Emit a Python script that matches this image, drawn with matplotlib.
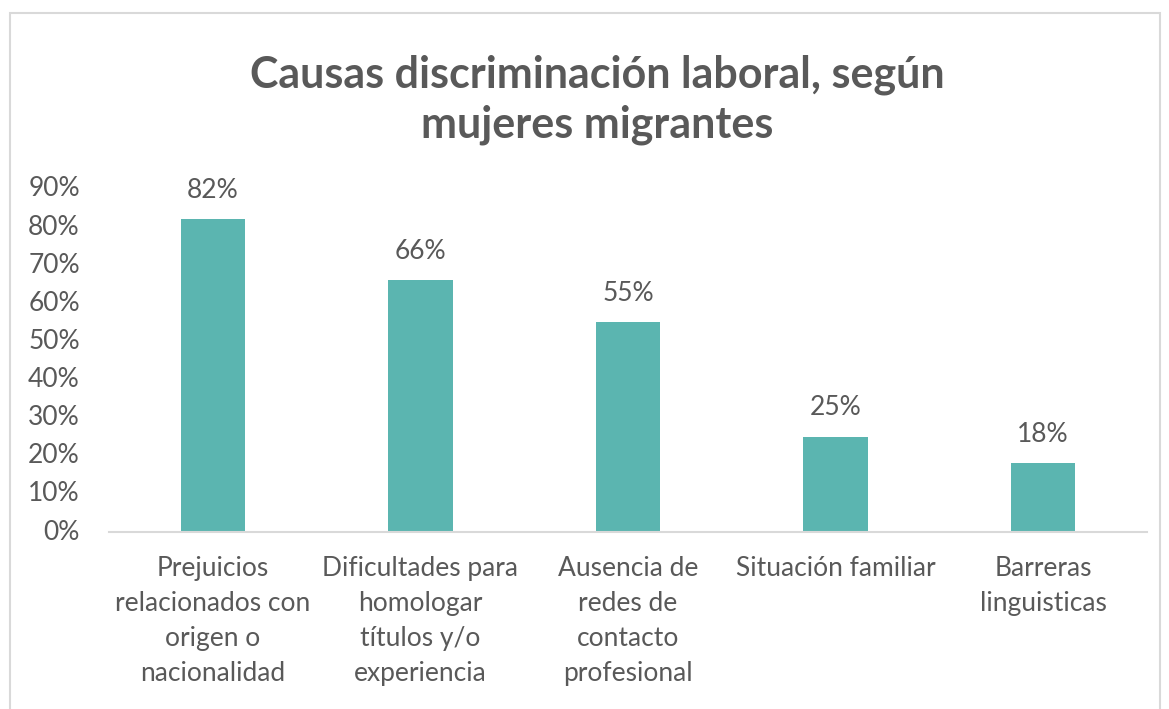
import matplotlib
matplotlib.use("Agg")
import matplotlib.pyplot as plt
import matplotlib.patches as mpatches
from matplotlib.ticker import FuncFormatter, MultipleLocator

categories = [
    "Prejuicios\nrelacionados con\norigen o\nnacionalidad",
    "Dificultades para\nhomologar\ntítulos y/o\nexperiencia",
    "Ausencia de\nredes de\ncontacto\nprofesional",
    "Situación familiar",
    "Barreras\nlinguisticas",
]
values = [82, 66, 55, 25, 18]
title = "Causas discriminación laboral, según\nmujeres migrantes"

gray = "#595959"
bar_color = "#5BB5B0"
plt.rcParams["font.family"] = ["Lato", "DejaVu Sans"]

fig = plt.figure(figsize=(11.69, 7.09), dpi=100)
# chart border like the spreadsheet frame
fig.patches.append(mpatches.Rectangle((10 / 1169, -0.05), 1150 / 1169, 1 - 13 / 709 + 0.05,
                                      transform=fig.transFigure, fill=False,
                                      edgecolor="#D9D9D9", linewidth=1.5))

ax = fig.add_axes([109 / 1169, 1 - 532 / 709, (1147 - 109) / 1169, (532 - 189) / 709])
x = range(len(categories))
bars = ax.bar(x, values, width=0.31, color=bar_color)
ax.set_xlim(-0.5, len(categories) - 0.5)
ax.set_ylim(0, 90)
ax.yaxis.set_major_locator(MultipleLocator(10))
ax.yaxis.set_major_formatter(FuncFormatter(lambda v, p: f"{int(v)}%"))

for b, v in zip(bars, values):
    ax.annotate(f"{v}%", (b.get_x() + b.get_width() / 2, v), xytext=(0, 12),
                textcoords="offset points", ha="center", va="bottom",
                fontsize=19, color=gray)

ax.set_xticks(list(x))
ax.set_xticklabels(categories, fontsize=19, color=gray, linespacing=1.5, va="top")
ax.tick_params(axis="x", length=0, pad=17)
ax.tick_params(axis="y", length=0, pad=21, labelsize=19, labelcolor=gray)
for lbl in ax.get_yticklabels():
    lbl.set_verticalalignment("center")

for s in ["top", "right", "left"]:
    ax.spines[s].set_visible(False)
ax.spines["bottom"].set_color("#D9D9D9")
ax.spines["bottom"].set_linewidth(1.5)

fig.text(597 / 1169, 1 - 100 / 709, title, ha="center", va="center",
         fontsize=31, fontweight="bold", color=gray, linespacing=1.3)

fig.savefig("out.png", dpi=100)
